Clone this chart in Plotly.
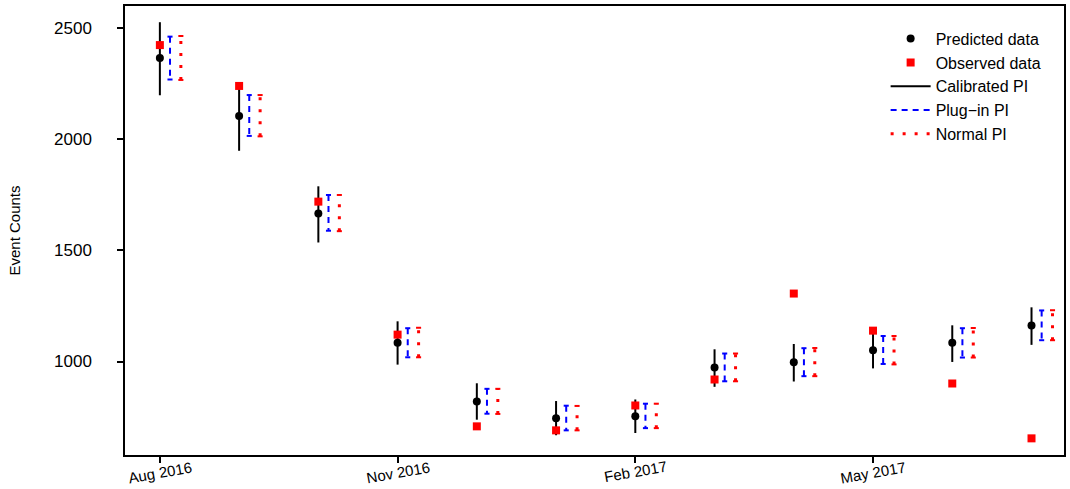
import plotly.graph_objects as go

# ---- data ----
month_idx = list(range(12))
tick_idx = [0, 3, 6, 9]
tick_labels = ["Aug 2016", "Nov 2016", "Feb 2017", "May 2017"]

predicted = [2367, 2106, 1666, 1085, 820, 744, 754, 973, 997, 1051, 1084, 1162]
observed = [2425, 2241, 1720, 1121, 708, 690, 802, 919, 1306, 1139, 901, 654]

cal_lo = [2199, 1949, 1536, 986, 738, 668, 678, 886, 910, 969, 998, 1075]
cal_hi = [2528, 2250, 1789, 1181, 902, 822, 829, 1055, 1079, 1135, 1163, 1244]

plug_lo = [2270, 2016, 1589, 1019, 765, 690, 700, 911, 934, 989, 1018, 1096]
plug_hi = [2463, 2200, 1750, 1150, 877, 801, 810, 1036, 1060, 1115, 1150, 1230]

norm_lo = [2268, 2014, 1587, 1019, 764, 690, 700, 911, 934, 987, 1018, 1096]
norm_hi = [2466, 2200, 1750, 1152, 877, 800, 810, 1036, 1061, 1115, 1151, 1231]

y_ticks = [1000, 1500, 2000, 2500]

# ---- styling constants ----
OFF_PLUG = 0.128
OFF_NORM = 0.265
CAP = 0.032
FONT = "Liberation Sans, Arial, Helvetica, sans-serif"


def segments(xs, lo, hi, off, top_down):
    X, Y = [], []
    for x, a, b in zip(xs, lo, hi):
        X += [x + off, x + off, None]
        Y += ([b, a, None] if top_down else [a, b, None])
    return X, Y


def caps(xs, lo, hi, off):
    X, Y = [], []
    for x, a, b in zip(xs, lo, hi):
        for v in (a, b):
            X += [x + off - CAP, x + off + CAP, None]
            Y += [v, v, None]
    return X, Y


fig = go.Figure()

# Calibrated PI
cx, cy = segments(month_idx, cal_lo, cal_hi, 0.0, True)
fig.add_trace(go.Scatter(x=cx, y=cy, mode="lines", name="Calibrated PI",
                         line=dict(color="black", width=2), legendrank=3))

# Plug-in PI
px_, py_ = segments(month_idx, plug_lo, plug_hi, OFF_PLUG, True)
fig.add_trace(go.Scatter(x=px_, y=py_, mode="lines", name="Plug\u2212in PI",
                         line=dict(color="blue", width=2, dash="6px,5px"),
                         legendrank=4))
pcx, pcy = caps(month_idx, plug_lo, plug_hi, OFF_PLUG)
fig.add_trace(go.Scatter(x=pcx, y=pcy, mode="lines", showlegend=False,
                         line=dict(color="blue", width=2), hoverinfo="skip"))

# Normal PI
nx, ny = segments(month_idx, norm_lo, norm_hi, OFF_NORM, False)
fig.add_trace(go.Scatter(x=nx, y=ny, mode="lines", name="Normal PI",
                         line=dict(color="red", width=3, dash="3px,9px"),
                         legendrank=5))
ncx, ncy = caps(month_idx, norm_lo, norm_hi, OFF_NORM)
fig.add_trace(go.Scatter(x=ncx, y=ncy, mode="lines", showlegend=False,
                         line=dict(color="red", width=2), hoverinfo="skip"))

# Predicted
fig.add_trace(go.Scatter(x=month_idx, y=predicted, mode="markers",
                         name="Predicted data",
                         marker=dict(color="black", size=8, symbol="circle"),
                         legendrank=1))
# Observed
fig.add_trace(go.Scatter(x=month_idx, y=observed, mode="markers",
                         name="Observed data",
                         marker=dict(color="red", size=8, symbol="square"),
                         legendrank=2))

# x tick labels as slanted annotations centred on the ticks
for t, lab in zip(tick_idx, tick_labels):
    fig.add_annotation(x=t, y=0, xref="x", yref="paper", text=lab,
                       showarrow=False, textangle=-10, xanchor="center",
                       yanchor="top", yshift=-2, borderpad=0,
                       font=dict(family=FONT, size=15, color="black"))

fig.update_layout(
    width=1070, height=489,
    margin=dict(l=125, r=4, t=5, b=34),
    paper_bgcolor="white", plot_bgcolor="white",
    font=dict(family=FONT, size=16, color="black"),
    showlegend=True,
    legend=dict(x=0.9815, y=0.965, xanchor="right", yanchor="top",
                bgcolor="rgba(0,0,0,0)", font=dict(size=16),
                tracegroupgap=0, itemwidth=40),
)

fig.update_xaxes(
    range=[-0.44, 11.41], tickmode="array", tickvals=tick_idx,
    ticktext=["" for _ in tick_idx], showticklabels=False,
    ticks="outside", ticklen=6, tickwidth=1.5, tickcolor="black",
    showline=True, linecolor="black", linewidth=1.5, mirror=True,
    showgrid=False, zeroline=False,
)
fig.update_yaxes(
    range=[579, 2601], tickmode="array", tickvals=y_ticks,
    ticks="outside", ticklen=6, tickwidth=1.5, tickcolor="black",
    ticklabelstandoff=22,
    showline=True, linecolor="black", linewidth=1.5, mirror=True,
    showgrid=False, zeroline=False,
    title=dict(text="Event Counts", font=dict(size=15), standoff=30),
    tickfont=dict(size=17),
)

fig.write_html("out.html",
               config={"displayModeBar": False},
               post_script="document.body.style.margin='0';")
